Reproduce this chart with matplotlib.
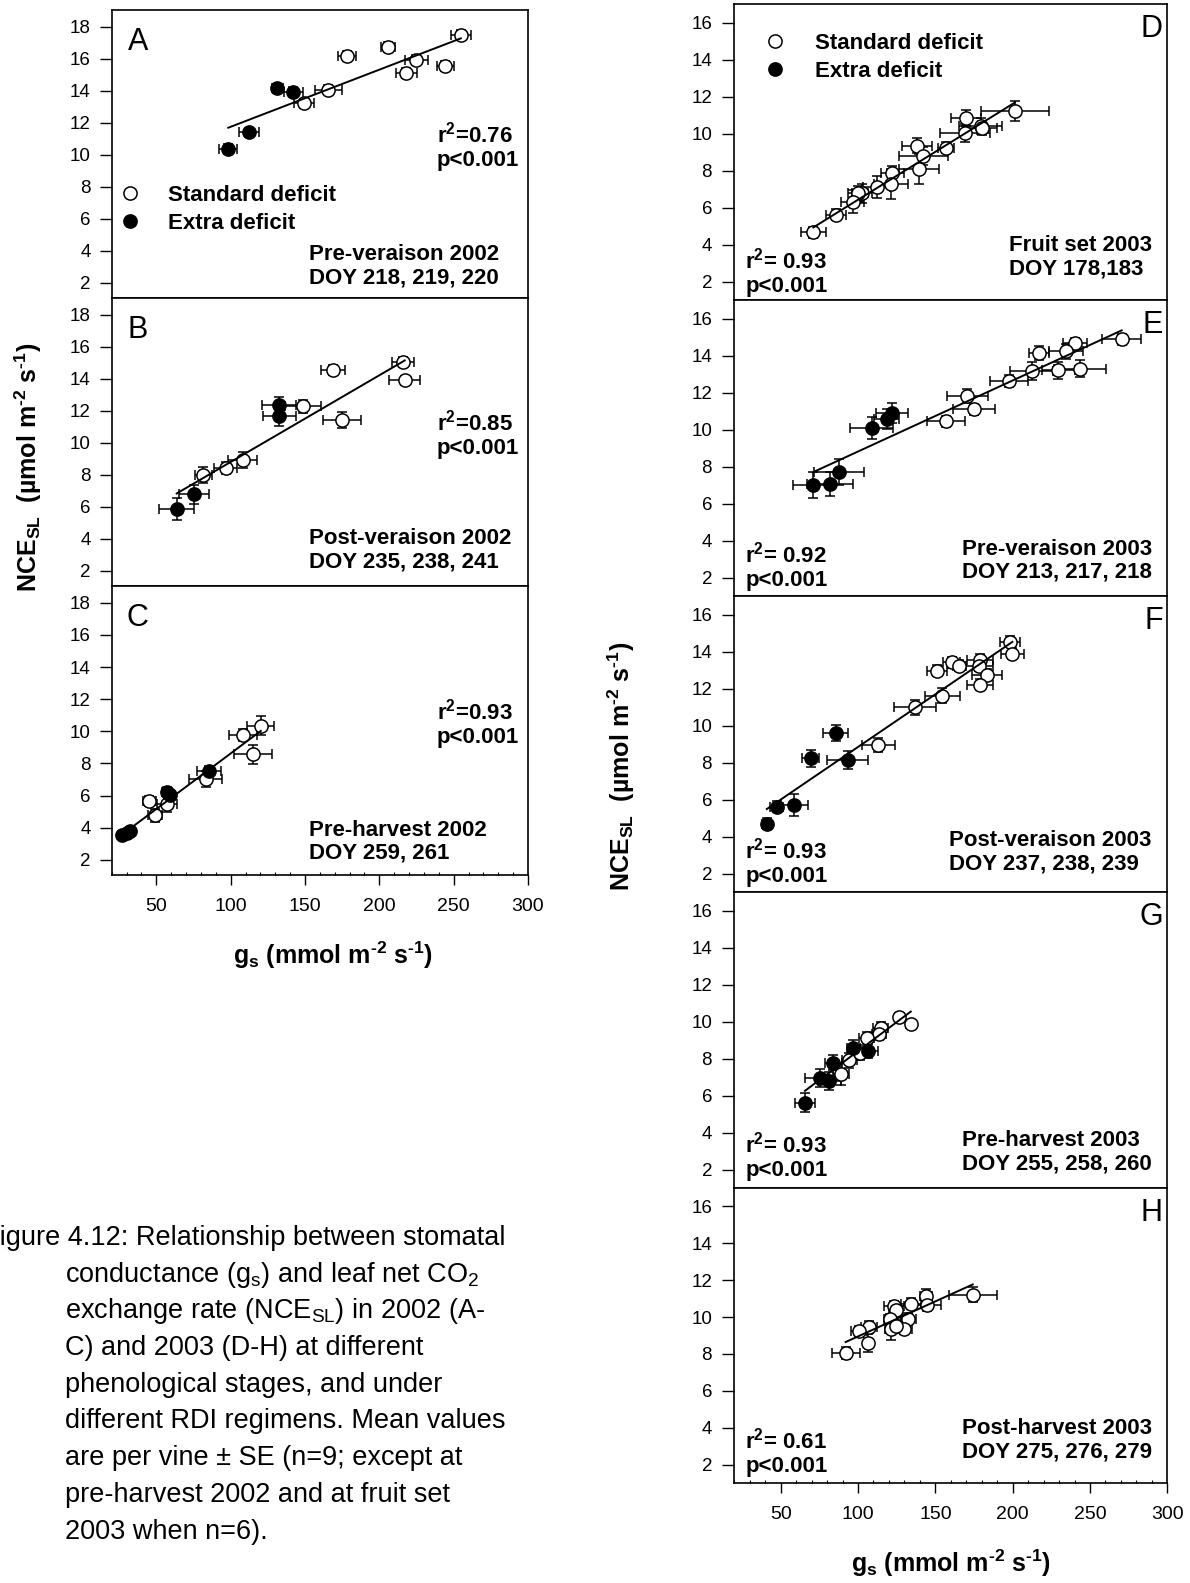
import matplotlib
matplotlib.use("Agg")
import matplotlib.pyplot as plt
import numpy as np
from matplotlib.ticker import MultipleLocator

plt.rcParams["font.family"] = ["Liberation Sans", "DejaVu Sans"]
plt.rcParams["mathtext.fontset"] = "custom"
plt.rcParams["mathtext.rm"] = "Liberation Sans"
plt.rcParams["mathtext.bf"] = "Liberation Sans:bold"
plt.rcParams["mathtext.it"] = "Liberation Sans:italic"

# ---------------------------------------------------------------------------
# Data: gs (mmol m-2 s-1) and NCE_SL (umol m-2 s-1), means per vine and SE
# "std" = standard deficit, "ext" = extra deficit
# ---------------------------------------------------------------------------
# A  Pre-veraison 2002
A_std_gs = [254.8, 205.9, 178.3, 225.0, 218.2, 244.5, 165.6, 149.2]
A_std_gs_se = [6.7, 4.5, 6.0, 7.8, 7.2, 5.6, 9.0, 6.7]
A_std_nce = [17.48, 16.75, 16.17, 15.92, 15.13, 15.56, 14.08, 13.21]
A_std_nce_se = [0.3, 0.3, 0.3, 0.3, 0.3, 0.3, 0.3, 0.3]
A_ext_gs = [131.5, 142.1, 112.3, 98.4]
A_ext_gs_se = [4.0, 6.5, 7.0, 6.0]
A_ext_nce = [14.15, 13.94, 11.40, 10.35]
A_ext_nce_se = [0.3, 0.3, 0.3, 0.3]

# B  Post-veraison 2002
B_std_gs = [216.0, 217.1, 168.9, 148.8, 175.0, 108.0, 96.6, 81.6]
B_std_gs_se = [7.2, 10.5, 7.8, 12.3, 12.8, 10.0, 7.8, 5.6]
B_std_nce = [15.04, 13.90, 14.56, 12.27, 11.44, 8.90, 8.42, 8.00]
B_std_nce_se = [0.3, 0.3, 0.3, 0.4, 0.5, 0.5, 0.4, 0.5]
B_ext_gs = [132.4, 132.8, 75.5, 63.7]
B_ext_gs_se = [11.5, 11.0, 10.0, 11.6]
B_ext_nce = [12.38, 11.65, 6.79, 5.88]
B_ext_nce_se = [0.5, 0.6, 0.6, 0.7]

# C  Pre-harvest 2002
C_std_gs = [120.3, 108.0, 115.2, 83.2, 45.3, 57.0, 49.1]
C_std_gs_se = [9.0, 9.4, 12.8, 11.0, 4.5, 6.7, 4.5]
C_std_nce = [10.35, 9.77, 8.56, 7.02, 5.67, 5.50, 4.77]
C_std_nce_se = [0.6, 0.4, 0.6, 0.5, 0.3, 0.5, 0.4]
C_ext_gs = [85.4, 57.0, 59.0, 32.3, 30.0, 26.7]
C_ext_gs_se = [7.8, 3.5, 3.5, 2.5, 2.5, 2.5]
C_ext_nce = [7.52, 6.25, 6.05, 3.79, 3.65, 3.52]
C_ext_nce_se = [0.3, 0.3, 0.3, 0.2, 0.2, 0.2]

# D  Fruit set 2003
D_std_gs = [201.5, 169.8, 179.3, 180.0, 169.2, 156.9, 138.0, 142.2, 139.6,
            122.2, 121.3, 112.1, 102.8, 99.8, 96.6, 85.6, 71.1]
D_std_gs_se = [22.0, 9.7, 14.0, 10.0, 16.0, 5.4, 9.7, 16.0, 13.0,
               7.5, 10.8, 8.6, 6.5, 6.5, 7.5, 6.5, 8.2]
D_std_nce = [11.19, 10.83, 10.41, 10.30, 10.02, 9.24, 9.35, 8.79, 8.07,
             7.86, 7.28, 7.10, 6.77, 6.77, 6.32, 5.60, 4.65]
D_std_nce_se = [0.54, 0.45, 0.45, 0.4, 0.5, 0.3, 0.4, 0.5, 0.8,
                0.4, 0.8, 0.6, 0.5, 0.4, 0.6, 0.3, 0.3]
D_ext_gs = []
D_ext_gs_se = []
D_ext_nce = []
D_ext_nce_se = []

# E  Pre-veraison 2003
E_std_gs = [270.5, 240.3, 234.5, 217.0, 243.6, 229.5, 212.3, 197.6, 170.7, 175.0, 156.9]
E_std_gs_se = [12.5, 7.5, 10.8, 6.5, 16.8, 10.8, 14.0, 12.5, 13.4, 13.4, 12.5]
E_std_nce = [14.88, 14.65, 14.23, 14.14, 13.29, 13.20, 13.15, 12.62, 11.81, 11.09, 10.45]
E_std_nce_se = [0.3, 0.3, 0.4, 0.4, 0.45, 0.45, 0.5, 0.3, 0.4, 0.3, 0.3]
E_ext_gs = [121.8, 118.6, 108.8, 87.7, 81.9, 70.7]
E_ext_gs_se = [10.3, 8.0, 14.0, 16.0, 15.0, 13.0]
E_ext_nce = [10.89, 10.58, 10.09, 7.69, 7.06, 7.00]
E_ext_nce_se = [0.55, 0.55, 0.6, 0.7, 0.65, 0.7]

# F  Post-veraison 2003
F_std_gs = [198.3, 199.8, 178.9, 178.5, 160.6, 165.5, 150.9, 183.2, 178.9, 154.5, 136.9, 113.1]
F_std_gs_se = [6.5, 7.5, 8.6, 8.6, 5.4, 4.0, 6.5, 9.7, 8.6, 11.2, 13.4, 10.8]
F_std_nce = [14.54, 13.87, 13.55, 13.24, 13.42, 13.24, 12.97, 12.74, 12.20, 11.62, 10.99, 8.95]
F_std_nce_se = [0.3, 0.3, 0.3, 0.3, 0.3, 0.3, 0.3, 0.3, 0.3, 0.4, 0.4, 0.4]
F_ext_gs = [85.6, 69.4, 93.3, 58.8, 47.4, 41.0]
F_ext_gs_se = [8.2, 5.4, 13.4, 9.0, 4.0, 3.0]
F_ext_nce = [9.59, 8.23, 8.14, 5.71, 5.62, 4.68]
F_ext_nce_se = [0.45, 0.45, 0.5, 0.6, 0.3, 0.3]

# G  Pre-harvest 2003
G_std_gs = [126.7, 134.1, 114.7, 113.6, 105.6, 94.4, 89.0, 101.3]
G_std_gs_se = [3.0, 3.0, 5.0, 4.3, 5.0, 5.0, 5.0, 5.0]
G_std_nce = [10.26, 9.85, 9.67, 9.31, 9.13, 7.91, 7.15, 8.32]
G_std_nce_se = [0.2, 0.2, 0.3, 0.3, 0.3, 0.4, 0.6, 0.4]
G_ext_gs = [97.0, 106.7, 84.0, 75.4, 81.4, 65.7]
G_ext_gs_se = [4.3, 6.5, 5.4, 9.7, 7.5, 6.5]
G_ext_nce = [8.59, 8.41, 7.78, 6.94, 6.79, 5.62]
G_ext_nce_se = [0.4, 0.4, 0.4, 0.5, 0.5, 0.5]

# H  Post-harvest 2003
H_std_gs = [174.2, 144.0, 144.8, 134.3, 123.3, 124.3, 132.5, 120.7,
            129.9, 121.6, 124.8, 107.1, 100.6, 106.3, 92.0]
H_std_gs_se = [15.5, 4.0, 8.6, 6.5, 6.5, 4.0, 5.0, 4.0,
               5.0, 4.0, 4.0, 5.0, 5.4, 2.0, 9.0]
H_std_nce = [11.21, 11.12, 10.64, 10.73, 10.58, 10.36, 9.91, 9.88,
             9.37, 9.37, 9.52, 9.46, 9.24, 8.59, 8.05]
H_std_nce_se = [0.4, 0.4, 0.3, 0.3, 0.3, 0.3, 0.3, 0.3,
                0.3, 0.6, 0.3, 0.3, 0.3, 0.5, 0.3]
H_ext_gs = []
H_ext_gs_se = []
H_ext_nce = []
H_ext_nce_se = []

# Linear regression fits (slope, intercept) for each stage
fit_slope = {"A": 0.0357, "B": 0.0542, "C": 0.0692, "D": 0.0518,
             "E": 0.0384, "F": 0.0569, "G": 0.0626, "H": 0.0380}
fit_intercept = {"A": 8.18, "B": 3.38, "C": 1.70, "D": 1.24,
                 "E": 4.97, "F": 3.15, "G": 2.14, "H": 5.15}

r2_text = {"A": "0.76", "B": "0.85", "C": "0.93", "D": "0.93",
           "E": "0.92", "F": "0.93", "G": "0.93", "H": "0.61"}
stage_text = {
    "A": "Pre-veraison 2002\nDOY 218, 219, 220",
    "B": "Post-veraison 2002\nDOY 235, 238, 241",
    "C": "Pre-harvest 2002\nDOY 259, 261",
    "D": "Fruit set 2003\nDOY 178,183",
    "E": "Pre-veraison 2003\nDOY 213, 217, 218",
    "F": "Post-veraison 2003\nDOY 237, 238, 239",
    "G": "Pre-harvest 2003\nDOY 255, 258, 260",
    "H": "Post-harvest 2003\nDOY 275, 276, 279",
}

ns = globals()
panels = {}
for p in "ABCDEFGH":
    panels[p] = {k: ns[f"{p}_{k}"] for k in
                 ["std_gs", "std_gs_se", "std_nce", "std_nce_se",
                  "ext_gs", "ext_gs_se", "ext_nce", "ext_nce_se"]}

# ---------------------------------------------------------------------------
W, H = 1190, 1583
fig = plt.figure(figsize=(W / 100, H / 100), dpi=100)


def px_axes(x0, y0, x1, y1):
    return fig.add_axes([x0 / W, 1 - y1 / H, (x1 - x0) / W, (y1 - y0) / H])


left_x = (111.7, 528.0)
right_x = (734.3, 1167.3)
boxes = {
    "A": (left_x, (10, 298)), "B": (left_x, (298, 586)), "C": (left_x, (586, 875)),
    "D": (right_x, (4, 300)), "E": (right_x, (300, 596)), "F": (right_x, (596, 892)),
    "G": (right_x, (892, 1188)), "H": (right_x, (1188, 1483)),
}

BOLD = dict(fontsize=16, fontweight="bold")
ms, mew = 9.5, 1.1
HY = "\u2010"  # plain hyphen for the unit exponents

for p, ((x0, x1), (y0, y1)) in boxes.items():
    ax = px_axes(x0, y0, x1, y1)
    d = panels[p]
    left_col = p in "ABC"

    ax.set_xlim(20, 300)
    if left_col:
        ax.set_ylim(1.05, 19.05)
        ax.set_yticks(np.arange(2, 19, 2))
    else:
        ax.set_ylim(1, 17)
        ax.set_yticks(np.arange(2, 17, 2))
    ax.set_xticks([50, 100, 150, 200, 250, 300])

    for s in ax.spines.values():
        s.set_linewidth(1.2)
    ax.tick_params(axis="y", direction="out", length=9, width=1.0,
                   labelsize=13.5, pad=6 if left_col else 7)
    if p in "CH":
        ax.tick_params(axis="x", direction="out", length=7.5, width=1.0,
                       labelsize=14, pad=9)
        ax.xaxis.set_minor_locator(MultipleLocator(10))
        ax.tick_params(axis="x", which="minor", direction="in", length=2, width=0.8)
    else:
        ax.tick_params(axis="x", which="both", bottom=False, labelbottom=False)

    # error bars, then markers
    groups = [("std", "white"), ("ext", "black")]
    handles = []
    for g, face in groups:
        gx, gy = d[f"{g}_gs"], d[f"{g}_nce"]
        if len(gx):
            ax.errorbar(gx, gy, xerr=d[f"{g}_gs_se"], yerr=d[f"{g}_nce_se"],
                        fmt="none", ecolor="black", elinewidth=1.1,
                        capsize=3.6, capthick=1.1, zorder=2)
        h, = ax.plot(gx, gy, "o", ms=ms, mfc=face, mec="black", mew=mew,
                     zorder=3, label="Standard deficit" if g == "std" else "Extra deficit")
        handles.append(h)

    # regression line over the range of the data
    all_x = np.array(d["std_gs"] + d["ext_gs"])
    xs = np.array([all_x.min(), all_x.max()])
    ax.plot(xs, fit_slope[p] * xs + fit_intercept[p], "-", color="black",
            lw=1.4, zorder=4)

    if left_col:
        stat = "r$^\\mathregular{2}$=" + r2_text[p] + "\np<0.001"
        ax.text(0.063, 0.89, p, transform=ax.transAxes, fontsize=22,
                ha="center", va="center")
        ax.text(0.781, 0.526, stat, transform=ax.transAxes, ha="left",
                va="center", linespacing=1.15, **BOLD)
        ycen = {"A": 0.109, "B": 0.125, "C": 0.115}[p]
        ax.text(0.474, ycen, stage_text[p], transform=ax.transAxes, ha="left",
                va="center", linespacing=1.15, **BOLD)
    else:
        ax.text(0.99, 0.915, p, transform=ax.transAxes, fontsize=22,
                ha="right", va="center")
        stat = "r$^\\mathregular{2}$= " + r2_text[p] + "\np<0.001"
        ycen = {"D": 0.093, "E": 0.0995, "F": 0.099, "G": 0.107, "H": 0.104}[p]
        ax.text(0.025, ycen, stat, transform=ax.transAxes, ha="left",
                va="center", linespacing=1.15, **BOLD)
        ycen = {"D": 0.144, "E": 0.119, "F": 0.134, "G": 0.12, "H": 0.145}[p]
        ax.text(0.964, ycen, stage_text[p], transform=ax.transAxes, ha="right",
                multialignment="left", va="center", linespacing=1.15, **BOLD)

    if p == "A":
        ax.legend(handles=handles, loc="center left", bbox_to_anchor=(0.0175, 0.307),
                  frameon=False, borderpad=0, borderaxespad=0, handlelength=1.0,
                  handletextpad=1.2, labelspacing=0.3, numpoints=1,
                  prop=dict(size=16, weight="bold"))
    if p == "D":
        ax.legend(handles=handles, loc="center left", bbox_to_anchor=(0.0686, 0.82),
                  frameon=False, borderpad=0, borderaxespad=0, handlelength=1.0,
                  handletextpad=1.3, labelspacing=0.3, numpoints=1,
                  prop=dict(size=16, weight="bold"))

# axis titles
ylab = ("NCE$_\\mathregular{SL}$  (\u00b5mol m$^\\mathregular{" + HY + "2}$ s$^\\mathregular{"
        + HY + "1}$)")
xlab = ("g$_\\mathregular{s}$ (mmol m$^\\mathregular{" + HY + "2}$ s$^\\mathregular{"
        + HY + "1}$)")
fig.text(28 / W, 1 - 467 / H, ylab, rotation=90, ha="center", va="center",
         fontsize=18, fontweight="bold")
fig.text(621 / W, 1 - 766 / H, ylab, rotation=90, ha="center", va="center",
         fontsize=18, fontweight="bold")
fig.text(333 / W, 1 - 955 / H, xlab, ha="center", va="center",
         fontsize=18, fontweight="bold")
fig.text(951 / W, 1 - 1563 / H, xlab, ha="center", va="center",
         fontsize=18, fontweight="bold")

# caption
caption = [
    "Figure 4.12: Relationship between stomatal",
    "conductance (g$_\\mathregular{s}$) and leaf net CO$_\\mathregular{2}$",
    "exchange rate (NCE$_\\mathregular{SL}$) in 2002 (A-",
    "C) and 2003 (D-H) at different",
    "phenological stages, and under",
    "different RDI regimens. Mean values",
    "are per vine \u00b1 SE (n=9; except at",
    "pre-harvest 2002 and at fruit set",
    "2003 when n=6).",
]
for i, line in enumerate(caption):
    xpx = -16.6 if i == 0 else 65
    fig.text(xpx / W, 1 - (1245 + 36.7 * i) / H, line, ha="left",
             va="baseline", fontsize=19.5)

fig.savefig("out.png", dpi=100)
